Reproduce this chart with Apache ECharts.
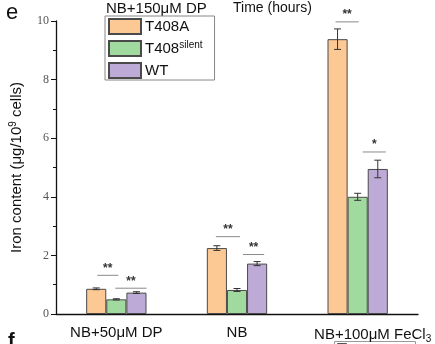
<!DOCTYPE html>
<html>
<head>
<meta charset="utf-8">
<script src="https://cdn.jsdelivr.net/npm/echarts@6/dist/echarts.min.js"></script>
<style>
  html, body { margin: 0; padding: 0; background: #fff; }
  #chart { width: 435px; height: 344px; }
</style>
</head>
<body>
<div id="chart"></div>
<script>
// Treatment groups on the x axis
const categories = ['NB+50μM DP', 'NB', 'NB+100μM FeCl3'];

// Iron content (μg/10^9 cells), mean per strain
const seriesNames = ['T408A', 'T408silent', 'WT'];
const t408aValues = [0.86, 2.25, 9.38];
const silentValues = [0.50, 0.82, 4.00];
const wtValues = [0.73, 1.72, 4.95];

// Standard deviations
const t408aErrors = [0.03, 0.08, 0.35];
const silentErrors = [0.02, 0.05, 0.12];
const wtErrors = [0.03, 0.07, 0.30];

// Significance brackets: [group, height, from bar offset, to bar offset, marker]
const significance = [
  [0, 1.32, -0.95, 0.10, '**'],
  [0, 0.88, -0.05, 1.50, '**'],
  [1, 2.64, -1.05, 0.15, '**'],
  [1, 2.03, 0.30, 1.35, '**'],
  [2, 9.97, -1.10, 0.05, '**'],
  [2, 5.53, 0.25, 1.40, '*']
];

const yTicks = [0, 2, 4, 6, 8, 10];

const colors = ['#FCC894', '#A0DA9E', '#BEAAD6'];
const valueSets = [t408aValues, silentValues, wtValues];
const errorSets = [t408aErrors, silentErrors, wtErrors];
const CAT_GAP = 0.5;

const chart = echarts.init(document.getElementById('chart'), null, { renderer: 'canvas' });

function barWidthOf(api) {
  return api.size([1, 0])[0] * (1 - CAT_GAP) / 3;
}

const barSeries = seriesNames.map((name, i) => ({
  name: name,
  type: 'bar',
  data: valueSets[i],
  barGap: '0%',
  barCategoryGap: (CAT_GAP * 100) + '%',
  itemStyle: { color: colors[i], borderColor: '#4a4a4a', borderWidth: 1 },
  emphasis: { disabled: true },
  z: 2
}));

// Error bars, one custom series per strain
const errorSeries = seriesNames.map((name, i) => ({
  type: 'custom',
  name: name + '-err',
  data: valueSets[i].map((v, k) => [k, v, errorSets[i][k]]),
  z: 5,
  silent: true,
  renderItem: function (params, api) {
    const k = api.value(0), v = api.value(1), e = api.value(2);
    const w = barWidthOf(api);
    const top = api.coord([k, v + e]);
    const bot = api.coord([k, v - e]);
    const x = top[0] + (i - 1) * w;
    const cap = 3.5;
    const style = { stroke: '#333', lineWidth: 1 };
    return {
      type: 'group',
      children: [
        { type: 'line', shape: { x1: x, y1: top[1], x2: x, y2: bot[1] }, style: style },
        { type: 'line', shape: { x1: x - cap, y1: top[1], x2: x + cap, y2: top[1] }, style: style },
        { type: 'line', shape: { x1: x - cap, y1: bot[1], x2: x + cap, y2: bot[1] }, style: style }
      ]
    };
  }
}));

// Significance lines with star markers
const sigSeries = {
  type: 'custom',
  name: 'sig',
  data: significance,
  z: 6,
  silent: true,
  renderItem: function (params, api) {
    const k = api.value(0), h = api.value(1);
    const w = barWidthOf(api);
    const p = api.coord([k, h]);
    const x0 = p[0] + api.value(2) * w;
    const x1 = p[0] + api.value(3) * w;
    return {
      type: 'group',
      children: [
        { type: 'line', shape: { x1: x0, y1: p[1], x2: x1, y2: p[1] },
          style: { stroke: '#8a8a8a', lineWidth: 1 } },
        { type: 'text', x: (x0 + x1) / 2, y: p[1] - 1,
          style: { text: significance[params.dataIndex][4], fill: '#333', font: 'bold 12px "Liberation Sans", Arial',
                   align: 'center', verticalAlign: 'bottom' } }
      ]
    };
  }
};

const option = {
  backgroundColor: '#ffffff',
  animation: false,
  grid: { left: 52, right: 17, top: 21, bottom: 28, containLabel: false },
  legend: {
    data: seriesNames,
    orient: 'vertical',
    left: 105,
    top: 16,
    width: 108,
    padding: [2, 12, 1, 3],
    itemWidth: 32,
    itemHeight: 15,
    itemGap: 5,
    borderColor: '#888',
    borderWidth: 1,
    icon: 'rect',
    selectedMode: false,
    textStyle: {
      fontFamily: '"Liberation Sans", Arial',
      fontSize: 15,
      color: '#111',
      padding: [0, 0, 0, -1],
      rich: {
        base: { fontSize: 15, fontFamily: '"Liberation Sans", Arial', color: '#111', lineHeight: 17 },
        sup: { fontSize: 10, fontFamily: '"Liberation Sans", Arial', color: '#111', verticalAlign: 'top', lineHeight: 9 }
      }
    },
    formatter: function (name) {
      if (name === 'T408silent') return '{base|T408}{sup|silent}';
      return '{base|' + name + '}';
    }
  },
  xAxis: {
    type: 'category',
    data: categories,
    axisLine: { lineStyle: { color: '#111', width: 1.3 } },
    axisTick: { show: false },
    axisLabel: {
      interval: 0,
      hideOverlap: false,
      margin: 11,
      fontFamily: '"Liberation Sans", Arial',
      fontSize: 15,
      color: '#111',
      formatter: function (v) {
        if (v.indexOf('FeCl3') >= 0) {
          return '{shift|NB+100μM FeCl}{sub|3}';
        }
        return v;
      },
      rich: {
        shift: { fontSize: 15, fontFamily: '"Liberation Sans", Arial', color: '#111', lineHeight: 19, padding: [0, 0, 0, 30] },
        sub: { fontSize: 10, fontFamily: '"Liberation Sans", Arial', color: '#111', lineHeight: 9, verticalAlign: 'bottom' }
      }
    }
  },
  yAxis: {
    type: 'value',
    min: 0,
    max: 10,
    interval: 2,
    name: '{n|Iron content (μg/10}{s|9}{n| cells)}',
    nameLocation: 'middle',
    nameGap: 30,
    nameRotate: 90,
    nameTextStyle: {
      rich: {
        n: { fontSize: 15, fontFamily: '"Liberation Sans", Arial', color: '#111', lineHeight: 18 },
        s: { fontSize: 10, fontFamily: '"Liberation Sans", Arial', color: '#111', verticalAlign: 'top', lineHeight: 10 }
      }
    },
    axisLine: { show: true, lineStyle: { color: '#111', width: 1.3 } },
    axisTick: { show: true, inside: false, length: 5, lineStyle: { color: '#111' } },
    minorTick: { show: true, splitNumber: 2, length: 3, lineStyle: { color: '#111' } },
    splitLine: { show: false },
    axisLabel: {
      margin: 7,
      fontFamily: '"Liberation Serif", "Times New Roman", serif',
      fontSize: 12,
      color: '#555',
      formatter: function (v) { return yTicks.indexOf(v) >= 0 ? String(v) : ''; }
    }
  },
  graphic: [
    { type: 'text', left: 6, top: 2, style: { text: 'e', font: '22px "Liberation Sans", Arial', fill: '#111' } },
    { type: 'text', left: 8, top: 331, style: { text: 'f', font: 'bold 20px "Liberation Sans", Arial', fill: '#111' } },
    { type: 'text', left: 106, top: 1, style: { text: 'NB+150μM DP', font: '15px "Liberation Sans", Arial', fill: '#111' } },
    { type: 'text', left: 233, top: 1, style: { text: 'Time (hours)', font: '14px "Liberation Sans", Arial', fill: '#111' } },
    { type: 'rect', shape: { x: 334.5, y: 341.5, width: 81, height: 12 }, style: { fill: 'none', stroke: '#999', lineWidth: 1 } },
    { type: 'rect', shape: { x: 337.5, y: 343.5, width: 9, height: 6 }, style: { fill: colors[0], stroke: '#555', lineWidth: 1 } }
  ],
  series: [...barSeries, ...errorSeries, sigSeries]
};

chart.setOption(option);
</script>
</body>
</html>
